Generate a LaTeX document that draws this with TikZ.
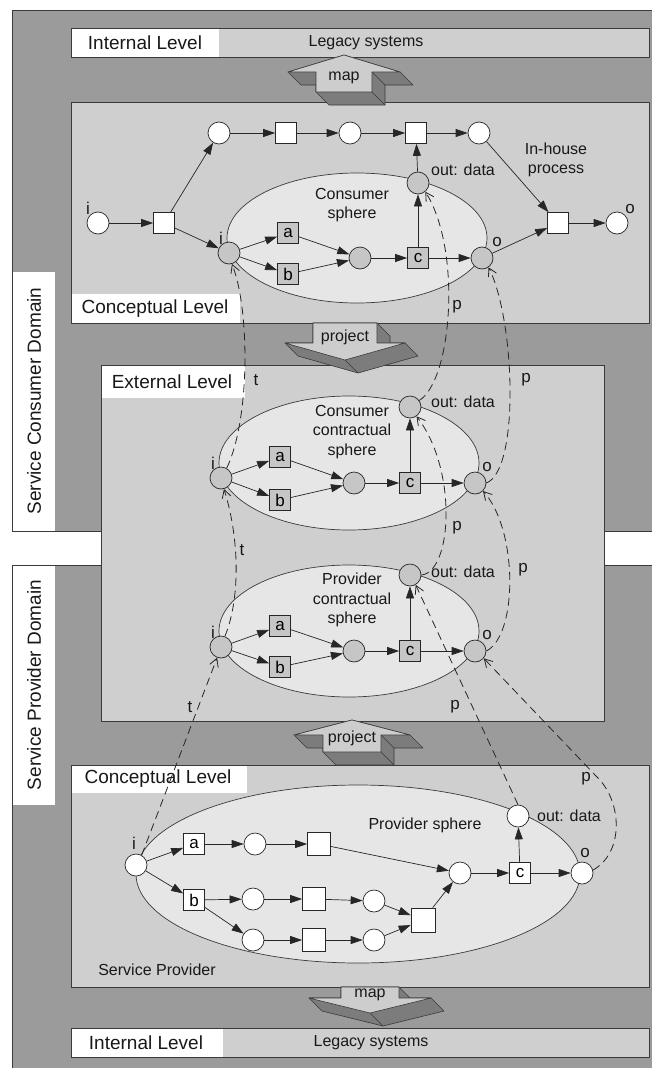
\documentclass[tikz,border=0pt]{standalone}
\usepackage{fontspec}
\setmainfont{Liberation Sans}
\usetikzlibrary{arrows.meta}
\definecolor{domaingray}{HTML}{9B9B9B}
\definecolor{boxgray}{HTML}{CFCFCF}
\definecolor{spheregray}{HTML}{E6E6E6}
\definecolor{nodegray}{HTML}{C6C6C6}
\definecolor{edgegray}{HTML}{3A3A3A}
\definecolor{facegray}{HTML}{CDCDCD}
\definecolor{sidegray}{HTML}{7C7C7C}
\newcommand{\pxsize}[2]{\fontsize{#1pt}{#2pt}\selectfont}

\begin{document}
\begin{tikzpicture}[x=1pt,y=-1pt,
  pnplace/.style={circle,draw=black!85,line width=0.7pt,fill=white,minimum size=22pt,inner sep=0pt},
  pngplace/.style={pnplace,fill=nodegray},
  pntrans/.style={rectangle,draw=black!85,line width=0.7pt,fill=white,minimum size=21pt,inner sep=0pt,font=\pxsize{17}{20}},
  pngtrans/.style={pntrans,fill=nodegray},
  flowarc/.style={line width=0.7pt,draw=black!85,-{Triangle[length=12pt,width=8pt]}},
  relation/.style={line width=0.8pt,draw=black!85,dash pattern=on 8pt off 5pt,-{Straight Barb[length=8pt,width=9pt]}},
  frameline/.style={draw=edgegray,line width=0.9pt},
  levelbox/.style={draw=edgegray,line width=0.9pt,fill=boxgray},
  levelfont/.style={font=\pxsize{19}{23},inner sep=0pt,text=black!90},
  smallfont/.style={font=\pxsize{16}{19.5},inner sep=0pt,text=black!90},
  letterlbl/.style={font=\pxsize{17}{20},inner sep=0pt,text=black!90},
  spherefill/.style={draw=edgegray,line width=0.7pt,fill=spheregray},
  arrowface/.style={fill=facegray,draw=edgegray,line width=0.6pt,line join=round},
  arrowside/.style={fill=sidegray,draw=edgegray,line width=0.6pt,line join=round},
  foldline/.style={draw=edgegray,line width=0.5pt},
]
\useasboundingbox (0,0) rectangle (652,1068);
\fill[white] (0,0) rectangle (652,1068);

% ---------------- domains ----------------
\fill[domaingray] (12,10) rectangle (656,531);
\fill[white] (12,272) rectangle (55,531);
\draw[frameline] (656,10) -- (12,10) -- (12,531) -- (656,531);
\fill[domaingray] (12,565) rectangle (656,1072);
\fill[white] (12,565) rectangle (55,805);
\draw[frameline] (656,565) -- (12,565) -- (12,1072);
\node[levelfont,rotate=90] (consumerdomain) at (34,401) {Service Consumer Domain};
\node[levelfont,rotate=90] (providerdomain) at (34,685) {Service Provider Domain};

% ---------------- internal level (consumer) ----------------
\fill[boxgray] (71,28) rectangle (649,57);
\fill[white] (71,28) rectangle (219,57);
\draw[frameline] (71,28) rectangle (649,57);
\node[levelfont] (internaltop) at (145,43) {Internal Level};
\node[smallfont] (legacytop) at (366,43) {Legacy systems};

% ---------------- conceptual level (consumer) ----------------
\draw[levelbox] (71,102) rectangle (649,323);
\fill[white] (71.5,294) rectangle (240,322.5);
\node[levelfont] (conceptualtop) at (155,309) {Conceptual Level};

% ---------------- external level ----------------
\draw[levelbox] (101,365) rectangle (604,721);
\fill[white] (101.5,365.5) rectangle (245,398);
\node[levelfont] (externallevel) at (172,382) {External Level};

% ---------------- conceptual level (provider) ----------------
\draw[levelbox] (71,765) rectangle (649,987);
\fill[white] (71.5,765.5) rectangle (247,793);
\node[levelfont] (conceptualbottom) at (158,779) {Conceptual Level};
\node[smallfont] (serviceprovider) at (157,970) {Service Provider};

% ---------------- internal level (provider) ----------------
\fill[boxgray] (71,1028) rectangle (649,1057);
\fill[white] (71,1028) rectangle (223,1057);
\draw[frameline] (71,1028) rectangle (649,1057);
\node[levelfont] (internalbottom) at (146,1043) {Internal Level};
\node[smallfont] (legacybottom) at (371,1043) {Legacy systems};

% ---------------- block arrows ----------------
% map (up), top
\filldraw[arrowside] (344,55) -- (400,72) -- (413,85) -- (385,85) -- (385,105) -- (329,105) -- (316,92) -- (316,85) -- (301,85) -- (288,72) -- cycle;
\filldraw[arrowface] (344,55) -- (400,72) -- (372,72) -- (372,92) -- (316,92) -- (316,72) -- (288,72) -- cycle;
\draw[foldline] (372,72) -- (385,85) (372,92) -- (385,105);
\node[smallfont] (maptop) at (344,78) {map};
% project (down), top
\filldraw[arrowside] (313,323) -- (377,323) -- (390,336) -- (390,343) -- (405,343) -- (418,356) -- (358,373) -- (298,356) -- (285,343) -- (313,343) -- cycle;
\filldraw[arrowface] (313,323) -- (377,323) -- (377,343) -- (405,343) -- (345,360) -- (285,343) -- (313,343) -- cycle;
\draw[foldline] (345,360) -- (358,373);
\node[smallfont] (projecttop) at (345,337) {project};
% project (up), bottom
\filldraw[arrowside] (352,720) -- (410,735) -- (423,748) -- (394,748) -- (394,765) -- (336,765) -- (323,752) -- (323,748) -- (307,748) -- (294,735) -- cycle;
\filldraw[arrowface] (352,720) -- (410,735) -- (381,735) -- (381,752) -- (323,752) -- (323,735) -- (294,735) -- cycle;
\draw[foldline] (381,735) -- (394,748) (381,752) -- (394,765);
\node[smallfont] (projectbottom) at (352,738) {project};
% map (down), bottom
\filldraw[arrowside] (341,987) -- (399,987) -- (410,998) -- (431,998) -- (444,1011) -- (383,1026) -- (322,1011) -- (309,998) -- (341,998) -- cycle;
\filldraw[arrowface] (341,987) -- (399,987) -- (399,998) -- (431,998) -- (370,1013) -- (309,998) -- (341,998) -- cycle;
\draw[foldline] (370,1013) -- (383,1026);
\node[smallfont] (mapbottom) at (370,995) {map};

% ---------------- consumer in-house process ----------------
\draw[spherefill] (357,238) ellipse [x radius=130pt, y radius=65pt];
\node[smallfont,align=center] (consumersphere) at (352,205) {Consumer\\sphere};
\node[smallfont,align=center] (inhouse) at (556,160) {In-house\\process};
\node[pnplace] (ci) at (98,223) {};
\node[pntrans] (cs1) at (164,223) {};
\node[pnplace] (ct1) at (219,133) {};
\node[pntrans] (ct2) at (286,133) {};
\node[pnplace] (ct3) at (350,133) {};
\node[pntrans] (ct4) at (416,133) {};
\node[pnplace] (ct5) at (479,133) {};
\node[pngplace] (gi) at (229,253) {};
\node[pngtrans] (ga) at (288,233) {a};
\node[pngtrans] (gb) at (288,274) {b};
\node[pngplace] (gm) at (360,258) {};
\node[pngtrans] (gc) at (418,258) {c};
\node[pngplace] (go) at (482,258) {};
\node[pngplace] (gout) at (418,183) {};
\node[pntrans] (cs2) at (558,223) {};
\node[pnplace] (co) at (617,223) {};
\node[letterlbl] (cilbl) at (88,208) {i};
\node[letterlbl] (gilbl) at (221,238) {i};
\node[letterlbl] (golbl) at (497,242) {o};
\node[letterlbl] (colbl) at (630,209) {o};
\node[smallfont] (goutlbl) at (463,170) {out: data};
\draw[flowarc] (ci) -- (cs1);
\draw[flowarc] (cs1) -- (ct1);
\draw[flowarc] (cs1) -- (gi);
\draw[flowarc] (ct1) -- (ct2);
\draw[flowarc] (ct2) -- (ct3);
\draw[flowarc] (ct3) -- (ct4);
\draw[flowarc] (ct4) -- (ct5);
\draw[flowarc] (ct5) -- (cs2);
\draw[flowarc] (gi) -- (ga);
\draw[flowarc] (gi) -- (gb);
\draw[flowarc] (ga) -- (gm);
\draw[flowarc] (gb) -- (gm);
\draw[flowarc] (gm) -- (gc);
\draw[flowarc] (gc) -- (go);
\draw[flowarc] (gc) -- (gout);
\draw[flowarc] (gout) -- (ct4);
\draw[flowarc] (go) -- (cs2);
\draw[flowarc] (cs2) -- (co);

% ---------------- consumer contractual sphere ----------------
\draw[spherefill] (349,463) ellipse [x radius=130pt, y radius=67pt];
\node[smallfont,align=center] (kcaption) at (352,432) {Consumer\\contractual\\sphere};
\node[pngplace] (ki) at (221,478) {};
\node[pngtrans] (ka) at (280,457) {a};
\node[pngtrans] (kb) at (280,500) {b};
\node[pngplace] (km) at (354,483) {};
\node[pngtrans] (kc) at (410,483) {c};
\node[pngplace] (ko) at (475,483) {};
\node[pngplace] (kout) at (410,407) {};
\node[letterlbl] (kilbl) at (213,463) {i};
\node[letterlbl] (kolbl) at (487,467) {o};
\node[smallfont] (koutlbl) at (463,402) {out: data};
\draw[flowarc] (ki) -- (ka);
\draw[flowarc] (ki) -- (kb);
\draw[flowarc] (ka) -- (km);
\draw[flowarc] (kb) -- (km);
\draw[flowarc] (km) -- (kc);
\draw[flowarc] (kc) -- (ko);
\draw[flowarc] (kc) -- (kout);

% ---------------- provider contractual sphere ----------------
\draw[spherefill] (349,631) ellipse [x radius=130pt, y radius=66pt];
\node[smallfont,align=center] (qcaption) at (352,600) {Provider\\contractual\\sphere};
\node[pngplace] (qi) at (221,647) {};
\node[pngtrans] (qa) at (280,626) {a};
\node[pngtrans] (qb) at (280,667) {b};
\node[pngplace] (qm) at (354,651) {};
\node[pngtrans] (qc) at (410,651) {c};
\node[pngplace] (qo) at (475,651) {};
\node[pngplace] (qout) at (410,575) {};
\node[letterlbl] (qilbl) at (213,632) {i};
\node[letterlbl] (qolbl) at (487,635) {o};
\node[smallfont] (qoutlbl) at (463,572) {out: data};
\draw[flowarc] (qi) -- (qa);
\draw[flowarc] (qi) -- (qb);
\draw[flowarc] (qa) -- (qm);
\draw[flowarc] (qb) -- (qm);
\draw[flowarc] (qm) -- (qc);
\draw[flowarc] (qc) -- (qo);
\draw[flowarc] (qc) -- (qout);

% ---------------- provider sphere ----------------
\draw[spherefill] (358,874) ellipse [x radius=222pt, y radius=89pt];
\node[smallfont] (providersphere) at (425,825) {Provider sphere};
\node[pnplace] (si) at (136,865) {};
\node[pntrans] (sa) at (194,844) {a};
\node[pnplace] (sp1) at (255,844) {};
\node[pntrans,minimum size=23pt] (sq1) at (319,844) {};
\node[pntrans] (sb) at (194,900) {b};
\node[pnplace] (sp2) at (253,899) {};
\node[pntrans,minimum size=23pt] (sq2) at (314,899) {};
\node[pnplace] (sp3) at (374,901) {};
\node[pnplace] (sp4) at (253,940) {};
\node[pntrans,minimum size=23pt] (sq3) at (314,940) {};
\node[pnplace] (sp5) at (374,940) {};
\node[pntrans,minimum size=24pt] (sj) at (423,920) {};
\node[pnplace] (sm) at (460,873) {};
\node[pntrans] (sc) at (520,873) {c};
\node[pnplace] (so) at (582,873) {};
\node[pnplace] (sout) at (518,816) {};
\node[letterlbl] (silbl) at (134,843) {i};
\node[letterlbl] (solbl) at (585,853) {o};
\node[smallfont] (soutlbl) at (569,816) {out: data};
\draw[flowarc] (si) -- (sa);
\draw[flowarc] (si) -- (sb);
\draw[flowarc] (sa) -- (sp1);
\draw[flowarc] (sp1) -- (sq1);
\draw[flowarc] (sq1) -- (sm);
\draw[flowarc] (sb) -- (sp2);
\draw[flowarc] (sp2) -- (sq2);
\draw[flowarc] (sq2) -- (sp3);
\draw[flowarc] (sp3) -- (sj);
\draw[flowarc] (sb) -- (sp4);
\draw[flowarc] (sp4) -- (sq3);
\draw[flowarc] (sq3) -- (sp5);
\draw[flowarc] (sp5) -- (sj);
\draw[flowarc] (sj) -- (sm);
\draw[flowarc] (sm) -- (sc);
\draw[flowarc] (sc) -- (so);
\draw[flowarc] (sc) -- (sout);

% ---------------- projection relations ----------------
\draw[relation] (ki.60) .. controls (250,420) and (250,310) .. (gi.-75);
\draw[relation] (qi.70) .. controls (240,600) and (240,540) .. (ki.-75);
\draw[relation] (si.60) -- (qi.-110);
\draw[relation] (kout.35) .. controls (452,380) and (462,250) .. (gout.-50);
\draw[relation] (ko.east) .. controls (520,470) and (515,320) .. (go.-55);
\draw[relation] (qout.east) .. controls (452,572) and (458,470) .. (kout.-55);
\draw[relation] (qo.east) .. controls (518,635) and (518,530) .. (ko.-45);
\draw[relation] (sout.north) -- (qout.-60);
\draw[relation] (so.15) .. controls (625,852) and (622,800) .. (596,776) -- (qo.-40);

\node[letterlbl] (t1) at (256,380) {t};
\node[letterlbl] (t2) at (242,550) {t};
\node[letterlbl] (t3) at (190,707) {t};
\node[letterlbl] (p1) at (457,307) {p};
\node[letterlbl] (p2) at (526,380) {p};
\node[letterlbl] (p3) at (457,528) {p};
\node[letterlbl] (p4) at (523,570) {p};
\node[letterlbl] (p5) at (455,707) {p};
\node[letterlbl] (p6) at (586,779) {p};
\end{tikzpicture}
\end{document}
